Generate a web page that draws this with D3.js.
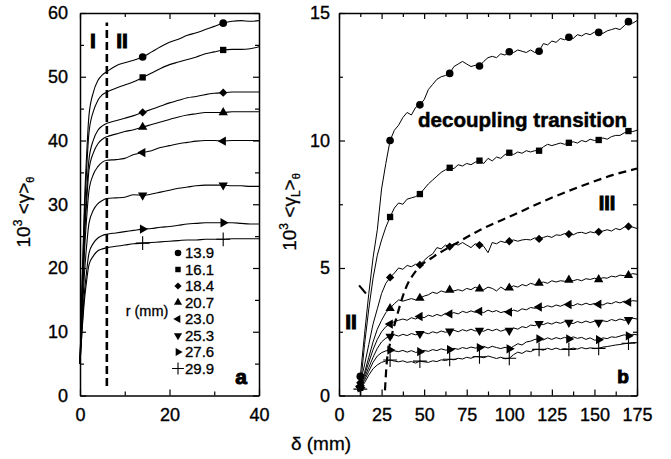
<!DOCTYPE html>
<html>
<head>
<meta charset="utf-8">
<script src="https://cdn.jsdelivr.net/npm/d3@7"></script>
<style>
  body { margin: 0; background: #fff; }
  svg text { font-family: "Liberation Sans", Arial, sans-serif; fill: #000; }
</style>
</head>
<body>
<svg id="chart" width="671" height="459"></svg>
<script>
// ---- data ----
var radii = ["13.9", "16.1", "18.4", "20.7", "23.0", "25.3", "27.6", "29.9"];

// panel a : 10^3 <gamma> vs delta (mm)
var xa = [0, 0.5, 1, 1.5, 2, 3, 4, 5, 6, 8, 10, 12, 14, 16, 18, 20, 22, 24, 26, 28, 30, 32, 34, 36, 38, 40];
var a_r139 = [5, 18.7, 30.2, 38, 43.9, 47.6, 49.4, 50.3, 50.8, 51.7, 52.2, 52.6, 53.1, 53.9, 54.7, 55.4, 55.9, 56.5, 56.9, 57.4, 57.9, 58.4, 58.7, 58.8, 58.7, 58.8];
var a_r161 = [5, 17.8, 28.4, 35.7, 41.2, 44.6, 46.3, 47.2, 47.6, 48.2, 48.7, 49.2, 49.9, 50.6, 51.3, 51.9, 52.3, 52.7, 53.1, 53.6, 53.9, 54.2, 54.3, 54.3, 54.4, 54.7];
var a_r184 = [5, 16.3, 25.7, 32.1, 37, 40.1, 41.6, 42.3, 42.7, 43.1, 43.5, 43.9, 44.4, 44.9, 45.4, 45.9, 46.3, 46.7, 46.9, 47.2, 47.4, 47.5, 47.6, 47.6, 47.6, 47.6];
var a_r207 = [5, 15.7, 24.6, 30.6, 35.3, 38.1, 39.5, 40.2, 40.6, 41, 41.4, 41.7, 42.1, 42.5, 42.9, 43.3, 43.7, 44, 44.2, 44.4, 44.4, 44.4, 44.5, 44.5, 44.5, 44.5];
var a_r230 = [5, 14.6, 22.5, 28, 32.1, 34.7, 35.9, 36.6, 36.9, 37, 37.2, 37.8, 38.1, 38.4, 38.9, 39.2, 39.5, 39.7, 39.9, 40, 40, 39.9, 40, 40, 40, 40];
var a_r253 = [5, 12.8, 19.2, 23.6, 27, 29.1, 30.1, 30.6, 30.9, 31, 31.1, 31.5, 31.4, 31.6, 31.9, 32.2, 32.5, 32.7, 32.9, 33, 33, 33, 32.9, 32.9, 32.8, 32.8];
var a_r276 = [5, 11.1, 16.2, 19.6, 22.3, 23.9, 24.7, 25.1, 25.3, 25.5, 25.7, 25.9, 26.1, 26.2, 26.4, 26.5, 26.7, 26.9, 27, 27.1, 27.1, 27.1, 27.1, 27, 26.9, 26.9];
var a_r299 = [5, 10.5, 15, 18.1, 20.5, 21.9, 22.7, 23, 23.2, 23.4, 23.6, 23.8, 23.9, 24, 24.1, 24.2, 24.3, 24.4, 24.4, 24.5, 24.5, 24.5, 24.6, 24.6, 24.6, 24.6];
var a_marks = [14, 32];
var a_boundary_x = [6, 6];
var a_boundary_y = [1.5, 58.5];

// panel b : 10^3 <gamma_L> vs delta (mm)
var xb = [12.5, 15, 17.5, 20, 22.5, 25, 27.5, 30, 32.5, 35, 37.5, 40, 42.5, 45, 47.5, 50, 52.5, 55, 57.5, 60,
          62.5, 65, 67.5, 70, 72.5, 75, 77.5, 80, 82.5, 85, 87.5, 90, 92.5, 95, 97.5, 100, 102.5, 105, 107.5, 110,
          112.5, 115, 117.5, 120, 122.5, 125, 127.5, 130, 132.5, 135, 137.5, 140, 142.5, 145, 147.5, 150, 152.5, 155,
          157.5, 160, 162.5, 165, 167.5, 170, 172.5, 175];
var b_r139 = [0.75, 2.4, 4.0, 5.4, 6.5, 8.1, 9.1, 10.0, 10.4, 10.6, 10.9, 11.1, 11.0, 11.3, 11.4, 11.6, 12.0, 12.2, 12.4, 12.5,
              12.55, 12.63, 12.9, 13.0, 13.1, 13.0, 12.9, 12.95, 12.92, 13.1, 13.25, 13.3, 13.25, 13.4, 13.35, 13.48, 13.45, 13.55, 13.5, 13.45,
              13.55, 13.45, 13.5, 13.8, 13.75, 13.9, 13.85, 14.0, 13.95, 14.05, 14.0, 14.15, 14.1, 14.2, 14.15, 14.25, 14.24, 14.2, 14.3, 14.35,
              14.4, 14.35, 14.5, 14.66, 14.6, 14.7];
var b_r161 = [0.3, 2.0, 3.4, 4.6, 5.5, 6.1, 6.6, 7.0, 7.35, 7.55, 7.5, 7.7, 7.75, 7.8, 7.9, 8.1, 8.3, 8.45, 8.6, 8.75,
              8.85, 8.93, 8.9, 9.05, 9.0, 9.1, 9.05, 9.15, 9.21, 9.1, 9.3, 9.2, 9.35, 9.3, 9.45, 9.52, 9.45, 9.55, 9.5, 9.6,
              9.55, 9.6, 9.6, 9.75, 9.85, 9.8, 9.85, 9.9, 9.85, 9.91, 9.95, 9.9, 10.0, 9.95, 10.05, 10.0, 10.02, 10.1, 10.05, 10.15,
              10.2, 10.2, 10.3, 10.37, 10.35, 10.4];
var b_r184 = [0.5, 1.2, 2.0, 2.8, 3.4, 4.0, 4.4, 4.63, 4.8, 5.0, 4.95, 5.1, 5.05, 5.15, 5.12, 5.3, 5.45, 5.55, 5.8, 5.75,
              5.9, 5.84, 5.95, 5.9, 6.0, 5.9, 5.8, 5.95, 5.9, 5.85, 5.6, 6.0, 5.95, 6.05, 6.0, 6.05, 6.1, 6.05, 6.1, 6.12,
              6.1, 6.18, 6.14, 6.2, 6.25, 6.2, 6.3, 6.28, 6.35, 6.33, 6.3, 6.38, 6.4, 6.35, 6.42, 6.38, 6.42, 6.45, 6.5, 6.45,
              6.55, 6.5, 6.6, 6.63, 6.6, 6.55];
var b_r207 = [0.4, 0.9, 1.5, 2.1, 2.6, 2.95, 3.25, 3.42, 3.6, 3.75, 3.7, 3.75, 3.8, 3.75, 3.82, 3.9, 3.95, 4.05, 4.0, 4.1,
              4.05, 4.14, 4.1, 4.15, 4.1, 4.2, 4.15, 4.25, 4.18, 4.15, 4.25, 4.2, 4.1, 4.25, 4.15, 4.22, 4.3, 4.25, 4.35, 4.3,
              4.4, 4.35, 4.41, 4.45, 4.4, 4.5, 4.45, 4.5, 4.48, 4.53, 4.5, 4.55, 4.5, 4.58, 4.55, 4.6, 4.55, 4.62, 4.6, 4.68,
              4.65, 4.72, 4.7, 4.71, 4.78, 4.75];
var b_r230 = [0.35, 0.8, 1.3, 1.8, 2.2, 2.5, 2.7, 2.8, 2.9, 2.95, 3.0, 2.95, 3.05, 3.0, 3.1, 3.05, 3.15, 3.1, 3.18, 3.12,
              3.22, 3.2, 3.25, 3.2, 3.3, 3.25, 3.32, 3.26, 3.3, 3.25, 3.35, 3.28, 3.33, 3.25, 3.3, 3.27, 3.35, 3.3, 3.4, 3.36,
              3.45, 3.42, 3.47, 3.45, 3.52, 3.47, 3.55, 3.5, 3.57, 3.57, 3.52, 3.6, 3.55, 3.62, 3.56, 3.61, 3.58, 3.55, 3.63, 3.6,
              3.68, 3.63, 3.7, 3.66, 3.72, 3.7];
var b_r253 = [0.3, 0.7, 1.1, 1.5, 1.85, 2.1, 2.25, 2.32, 2.38, 2.33, 2.4, 2.35, 2.43, 2.38, 2.42, 2.47, 2.42, 2.5, 2.45, 2.53,
              2.48, 2.52, 2.56, 2.5, 2.58, 2.53, 2.6, 2.53, 2.55, 2.52, 2.6, 2.54, 2.6, 2.52, 2.58, 2.55, 2.65, 2.6, 2.7, 2.66,
              2.76, 2.74, 2.82, 2.78, 2.85, 2.8, 2.88, 2.83, 2.9, 2.86, 2.82, 2.9, 2.85, 2.92, 2.86, 2.91, 2.86, 2.93, 2.9, 2.98,
              2.93, 3.0, 2.95, 2.97, 3.03, 3.0];
var b_r276 = [0.3, 0.6, 0.95, 1.3, 1.55, 1.68, 1.75, 1.78, 1.75, 1.72, 1.77, 1.7, 1.76, 1.69, 1.72, 1.77, 1.73, 1.8, 1.76, 1.83,
              1.78, 1.8, 1.85, 1.81, 1.88, 1.84, 1.9, 1.86, 1.88, 1.93, 1.86, 1.93, 1.88, 1.84, 1.89, 1.83, 1.93, 2.03, 1.98, 2.1,
              2.13, 2.2, 2.22, 2.18, 2.26, 2.2, 2.27, 2.22, 2.28, 2.22, 2.3, 2.24, 2.28, 2.2, 2.26, 2.17, 2.19, 2.26, 2.23, 2.3,
              2.28, 2.33, 2.38, 2.34, 2.4, 2.38];
var b_r299 = [0.25, 0.5, 0.8, 1.05, 1.2, 1.3, 1.35, 1.39, 1.35, 1.32, 1.36, 1.3, 1.33, 1.27, 1.35, 1.32, 1.3, 1.36, 1.33, 1.4,
              1.37, 1.42, 1.4, 1.46, 1.43, 1.5, 1.46, 1.53, 1.52, 1.48, 1.55, 1.5, 1.45, 1.5, 1.44, 1.46, 1.6, 1.7, 1.65, 1.75,
              1.72, 1.8, 1.81, 1.78, 1.85, 1.8, 1.86, 1.8, 1.84, 1.81, 1.86, 1.82, 1.88, 1.83, 1.87, 1.84, 1.85, 1.9, 1.92, 1.95,
              1.98, 2.0, 2.03, 2.05, 2.08, 2.07];
var b_marks = [12.5, 30, 47.5, 65, 82.5, 100, 117.5, 135, 152.5, 170];
// regime III boundary and the short regime II boundary piece
var b_boundary_x = [27, 28, 30, 33.9, 38.8, 45.6, 55.4, 67.1, 82.8, 102.4, 121.9, 141.5, 161.1, 175];
var b_boundary_y = [0.2, 1.26, 2.05, 3.09, 4.14, 4.92, 5.44, 5.9, 6.49, 7.08, 7.67, 8.19, 8.65, 8.9];
var b_short_x = [11.8, 15.8];
var b_short_y = [4.32, 4.0];

// ticks
var a_xticks = [0, 20, 40];
var a_xminor = [10, 30];
var a_yticks = [0, 10, 20, 30, 40, 50, 60];
var a_yminor = [5, 15, 25, 35, 45, 55];
var b_xticks = [0, 25, 50, 75, 100, 125, 150, 175];
var b_xminor = [12.5, 37.5, 62.5, 87.5, 112.5, 137.5, 162.5];
var b_yticks = [0, 5, 10, 15];
var b_yminor = [2.5, 7.5, 12.5];

var a_series = [a_r139, a_r161, a_r184, a_r207, a_r230, a_r253, a_r276, a_r299];
var b_series = [b_r139, b_r161, b_r184, b_r207, b_r230, b_r253, b_r276, b_r299];

// marker shapes, one per radius
var symbols = [
  {type: d3.symbolCircle, rot: 0, size: 46},
  {type: d3.symbolSquare, rot: 0, size: 40},
  {type: d3.symbolDiamond2, rot: 0, size: 44},
  {type: d3.symbolTriangle, rot: 0, size: 38},
  {type: d3.symbolTriangle, rot: -90, size: 38},
  {type: d3.symbolTriangle, rot: 180, size: 38},
  {type: d3.symbolTriangle, rot: 90, size: 38},
  {type: d3.symbolPlus, rot: 0, size: 64, stroke: true}
];

window.addEventListener('load', function ()
{
  init();
});

var svg;

function init()
{
  svg = d3.select("#chart");
  build_panel_a();
  build_panel_b();
  build_titles();
}

function draw_frame(x, y, xt, xm, yt, ym)
{
  var x0 = x.range()[0], x1 = x.range()[1];
  var y0 = y.range()[0], y1 = y.range()[1];
  var g = svg.append("g");

  // labelled axes (bottom, left)
  g.append("g").attr("transform", "translate(0," + y0 + ")")
    .call(d3.axisBottom(x).tickValues(xt).tickSizeInner(-6).tickSizeOuter(0).tickPadding(13).tickFormat(d3.format("d")));
  g.append("g").attr("transform", "translate(" + x0 + ",0)")
    .call(d3.axisLeft(y).tickValues(yt).tickSizeInner(-6).tickSizeOuter(0).tickPadding(x0 > 200 ? 9 : 12).tickFormat(d3.format("d")));
  // mirrored axes (top, right)
  g.append("g").attr("transform", "translate(0," + y1 + ")")
    .call(d3.axisTop(x).tickValues(xt).tickSizeInner(-6).tickSizeOuter(0).tickFormat(""));
  g.append("g").attr("transform", "translate(" + x1 + ",0)")
    .call(d3.axisRight(y).tickValues(yt).tickSizeInner(-6).tickSizeOuter(0).tickFormat(""));

  // minor ticks
  var minor = [
    [d3.axisBottom(x).tickValues(xm), "translate(0," + y0 + ")"],
    [d3.axisTop(x).tickValues(xm), "translate(0," + y1 + ")"],
    [d3.axisLeft(y).tickValues(ym), "translate(" + x0 + ",0)"],
    [d3.axisRight(y).tickValues(ym), "translate(" + x1 + ",0)"]
  ];
  minor.forEach(function (m)
  {
    g.append("g").attr("transform", m[1])
      .call(m[0].tickSizeInner(-4).tickSizeOuter(0).tickFormat(""))
      .call(function (s) { s.select(".domain").remove(); });
  });

  g.selectAll(".domain").attr("stroke", "#000").attr("stroke-width", 1.5);
  g.selectAll(".tick line").attr("stroke", "#000").attr("stroke-width", 1.2);
  g.selectAll(".tick text").style("font-size", "18px").attr("fill", "#000")
    .attr("stroke", "#000").attr("stroke-width", 0.35);
  g.selectAll("g").attr("font-family", null).attr("font-size", null);
}

function draw_marker(g, sym, px, py)
{
  var p = g.append("path")
    .attr("d", d3.symbol(sym.type, sym.size)())
    .attr("transform", "translate(" + px + "," + py + ") rotate(" + sym.rot + ")");
  if (sym.stroke) { p.attr("fill", "none").attr("stroke", "#000").attr("stroke-width", 1.1); }
  else { p.attr("fill", "#000"); }
}

function build_panel_a()
{
  var x = d3.scaleLinear().domain([0, 40]).range([80, 259]);
  var y = d3.scaleLinear().domain([0, 60]).range([395.5, 13]);
  draw_frame(x, y, a_xticks, a_xminor, a_yticks, a_yminor);

  var line = d3.line()
    .x(function (d, i) { return x(xa[i]); })
    .y(function (d) { return y(d); })
    .curve(d3.curveMonotoneX);

  var g = svg.append("g");
  g.selectAll(".curveA").data(a_series).enter()
    .append("path").classed("curveA", true)
    .attr("d", line).attr("fill", "none").attr("stroke", "#000").attr("stroke-width", 1.1);

  a_series.forEach(function (s, k)
  {
    a_marks.forEach(function (mx)
    {
      draw_marker(g, symbols[k], x(mx), y(s[xa.indexOf(mx)]));
    });
  });

  // I / II boundary
  g.append("path")
    .attr("d", d3.line()(a_boundary_x.map(function (v, i) { return [x(v), y(a_boundary_y[i])]; })))
    .attr("stroke", "#000").attr("stroke-width", 2.6).attr("stroke-dasharray", "8,4").attr("fill", "none");

  // legend
  var lg = svg.append("g");
  radii.forEach(function (r, i)
  {
    var ly = 253 + i * 16.5;
    draw_marker(lg, {type: symbols[i].type, rot: symbols[i].rot, size: symbols[i].size * 0.75, stroke: symbols[i].stroke}, 178, ly);
    lg.append("text").attr("x", 185).attr("y", ly).attr("dy", "0.36em")
      .style("font-size", "15px").attr("stroke", "#000").attr("stroke-width", 0.3).text(r);
  });
  lg.append("text").attr("x", 147).attr("y", 311).attr("dy", "0.36em")
    .attr("text-anchor", "middle").style("font-size", "14.5px")
    .attr("stroke", "#000").attr("stroke-width", 0.3).text("r (mm)");

  heavy_label(93, 48, "I", 21);
  heavy_label(122, 48, "II", 21);
  heavy_label(241, 384, "a", 21);
}

function build_panel_b()
{
  var x = d3.scaleLinear().domain([0, 175]).range([339, 637]);
  var y = d3.scaleLinear().domain([0, 15]).range([395.5, 13]);
  draw_frame(x, y, b_xticks, b_xminor, b_yticks, b_yminor);

  var line = d3.line()
    .x(function (d, i) { return x(xb[i]); })
    .y(function (d) { return y(d); });

  var g = svg.append("g");
  g.selectAll(".curveB").data(b_series).enter()
    .append("path").classed("curveB", true)
    .attr("d", line).attr("fill", "none").attr("stroke", "#000").attr("stroke-width", 1);

  var dashed = d3.line().curve(d3.curveMonotoneX);
  g.append("path")
    .attr("d", dashed(b_boundary_x.map(function (v, i) { return [x(v), y(b_boundary_y[i])]; })))
    .attr("stroke", "#000").attr("stroke-width", 2.2).attr("stroke-dasharray", "8,5").attr("fill", "none");
  g.append("path")
    .attr("d", d3.line()(b_short_x.map(function (v, i) { return [x(v), y(b_short_y[i])]; })))
    .attr("stroke", "#000").attr("stroke-width", 2).attr("fill", "none");

  b_series.forEach(function (s, k)
  {
    b_marks.forEach(function (mx)
    {
      draw_marker(g, symbols[k], x(mx), y(s[xb.indexOf(mx)]));
    });
  });

  svg.append("text").attr("x", 418).attr("y", 127)
    .attr("textLength", 209).attr("lengthAdjust", "spacingAndGlyphs")
    .style("font-size", "20.5px").style("font-weight", "bold")
    .attr("stroke", "#000").attr("stroke-width", 0.5)
    .text("decoupling transition");

  heavy_label(607, 210, "III", 20);
  heavy_label(351, 329, "II", 21);
  heavy_label(623, 383, "b", 19);
}

function heavy_label(px, py, txt, size)
{
  svg.append("text").attr("x", px).attr("y", py)
    .attr("text-anchor", "middle")
    .style("font-size", size + "px").style("font-weight", "bold")
    .attr("stroke", "#000").attr("stroke-width", 1)
    .text(txt);
}

function build_titles()
{
  svg.append("text").attr("x", 321).attr("y", 450)
    .attr("text-anchor", "middle").style("font-size", "19px")
    .attr("stroke", "#000").attr("stroke-width", 0.3)
    .text("δ (mm)");

  // left y title: 10^3 <γ>_θ
  var ta = svg.append("text").attr("transform", "translate(30,212) rotate(-90)")
    .attr("text-anchor", "middle").style("font-size", "19px")
    .attr("stroke", "#000").attr("stroke-width", 0.3);
  ta.append("tspan").text("10");
  ta.append("tspan").attr("dy", -8).style("font-size", "12px").text("3");
  ta.append("tspan").attr("dy", 8).text(" <γ>");
  ta.append("tspan").attr("dy", 4).style("font-size", "11px").text("θ");

  // right y title: 10^3 <γ_L>_θ
  var tb = svg.append("text").attr("transform", "translate(296,212) rotate(-90)")
    .attr("text-anchor", "middle").style("font-size", "19px")
    .attr("stroke", "#000").attr("stroke-width", 0.3);
  tb.append("tspan").text("10");
  tb.append("tspan").attr("dy", -8).style("font-size", "12px").text("3");
  tb.append("tspan").attr("dy", 8).text(" <γ");
  tb.append("tspan").attr("dy", 4).style("font-size", "12px").text("L");
  tb.append("tspan").attr("dy", -4).text(">");
  tb.append("tspan").attr("dy", -4).attr("dy", 4).style("font-size", "11px").text("θ");
}
</script>
</body>
</html>
